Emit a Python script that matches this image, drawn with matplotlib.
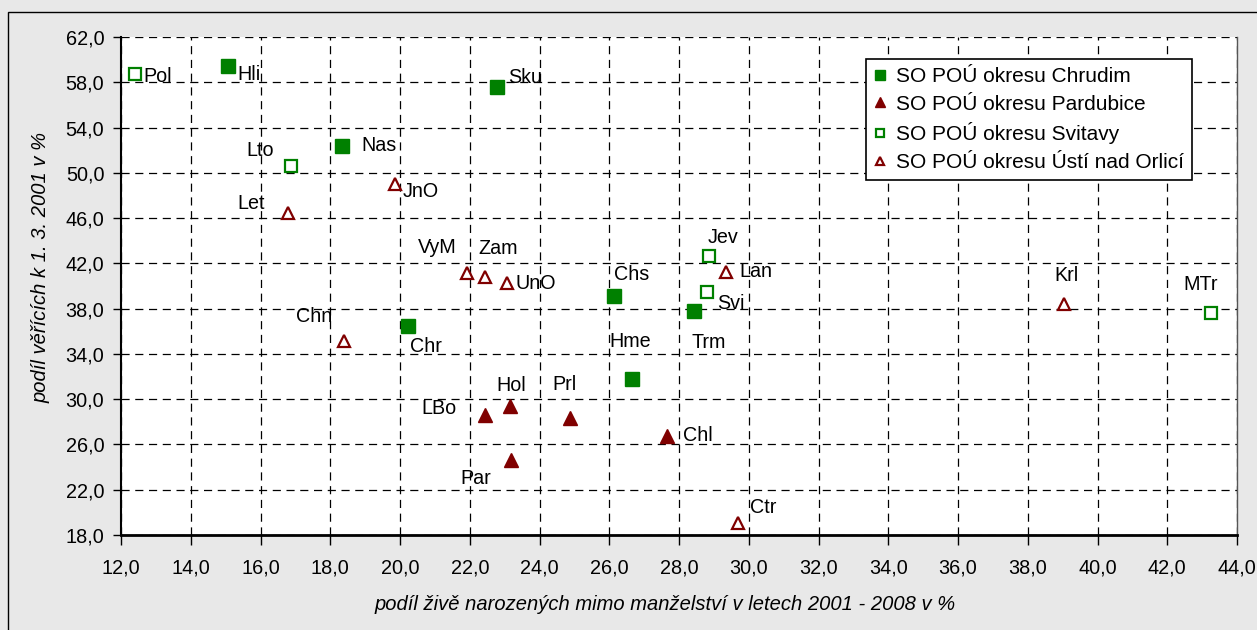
import matplotlib
matplotlib.use("Agg")
import matplotlib.pyplot as plt
from matplotlib.patches import Rectangle

plt.rcParams['font.family'] = ['Liberation Sans', 'DejaVu Sans']

# ---- data ----
chr_names = ["Hli", "Sku", "Nas", "Chr", "Chs", "Trm", "Hme"]
chr_x = [15.07, 22.78, 18.33, 20.23, 26.13, 28.44, 26.65]
chr_y = [59.44, 57.58, 52.40, 36.47, 39.12, 37.79, 31.81]

par_names = ["LBo", "Hol", "Prl", "Chl", "Par"]
par_x = [22.44, 23.15, 24.88, 27.66, 23.17]
par_y = [28.60, 29.42, 28.31, 26.75, 24.63]

svi_names = ["Pol", "Lto", "Jev", "Svi", "MTr"]
svi_x = [12.40, 16.87, 28.87, 28.80, 43.25]
svi_y = [58.76, 50.63, 42.65, 39.44, 37.59]

ust_names = ["Let", "JnO", "VyM", "Zam", "UnO", "Lan", "Chn", "Ctr", "Krl"]
ust_x = [16.78, 19.85, 21.92, 22.44, 23.07, 29.35, 18.40, 29.70, 39.05]
ust_y = [46.42, 48.98, 41.18, 40.77, 40.24, 41.26, 35.14, 19.03, 38.41]

series_labels = ["SO POÚ okresu Chrudim", "SO POÚ okresu Pardubice",
                 "SO POÚ okresu Svitavy", "SO POÚ okresu Ústí nad Orlicí"]

x_ticks = [12, 14, 16, 18, 20, 22, 24, 26, 28, 30, 32, 34, 36, 38, 40, 42, 44]
y_ticks = [18, 22, 26, 30, 34, 38, 42, 46, 50, 54, 58, 62]

x_label = "podíl živě narozených mimo manželství v letech 2001 - 2008 v %"
y_label = "podíl věřících k 1. 3. 2001 v %"

# label placement: (dx px, dy px, ha)
label_pos = {
    "Pol": (8, -3, "left"), "Hli": (9, -9, "left"), "Sku": (11, 10, "left"),
    "Nas": (20, 0, "left"), "Lto": (-17, 15, "right"), "Let": (-23, 10, "right"),
    "JnO": (8, -7, "left"), "VyM": (-10, 25, "right"), "Zam": (-7, 29, "left"),
    "UnO": (8, 0, "left"), "Chs": (0, 21, "left"), "Jev": (-2, 19, "left"),
    "Lan": (13, 0, "left"), "Svi": (10, -11, "left"), "Trm": (-3, -31, "left"),
    "Hme": (-23, 37, "left"), "Chr": (2, -21, "left"), "Chn": (-12, 25, "right"),
    "Hol": (-13, 20, "left"), "Prl": (-18, 34, "left"), "LBo": (-29, 7, "right"),
    "Par": (-50, -19, "left"), "Chl": (16, 0, "left"), "Ctr": (12, 16, "left"),
    "Krl": (-10, 28, "left"), "MTr": (-27, 29, "left"),
}

GREEN = "#008000"
RED = "#800000"

fig = plt.figure(figsize=(12.57, 6.30), dpi=100)
fig.patch.set_facecolor("#E8E8E8")
fig.patches.append(Rectangle((8 / 1257, -0.2), 1.2, 1.2 - 12 / 630,
                             transform=fig.transFigure, fill=False,
                             edgecolor="black", linewidth=1.0, zorder=0))

ax = fig.add_axes([121 / 1257, 95 / 630, 1116 / 1257, 498 / 630])
ax.set_facecolor("white")

ax.plot(chr_x, chr_y, ls="none", marker="s", ms=10, mfc=GREEN, mec=GREEN,
        label=series_labels[0], zorder=3)
ax.plot(par_x, par_y, ls="none", marker="^", ms=10, mfc=RED, mec=RED,
        label=series_labels[1], zorder=3)
ax.plot(svi_x, svi_y, ls="none", marker="s", ms=8, mfc="white", mec=GREEN,
        mew=1.6, label=series_labels[2], zorder=3)
ax.plot(ust_x, ust_y, ls="none", marker="^", ms=9, mfc="white", mec=RED,
        mew=1.6, label=series_labels[3], zorder=3)

for names, xs, ys in [(chr_names, chr_x, chr_y), (par_names, par_x, par_y),
                      (svi_names, svi_x, svi_y), (ust_names, ust_x, ust_y)]:
    for n, xv, yv in zip(names, xs, ys):
        dx, dy, ha = label_pos[n]
        ax.annotate(n, (xv, yv), xytext=(dx, dy), textcoords="offset pixels",
                    ha=ha, va="center", fontsize=14.2, color="black", zorder=4)

ax.set_xlim(12, 44)
ax.set_ylim(18, 62)
ax.set_xticks(x_ticks)
ax.set_yticks(y_ticks)
ax.set_xticklabels([f"{v:.1f}".replace(".", ",") for v in x_ticks])
ax.set_yticklabels([f"{v:.1f}".replace(".", ",") for v in y_ticks])
ax.tick_params(axis="x", direction="out", length=7, width=1, pad=10, labelsize=14.3)
ax.tick_params(axis="y", direction="out", length=6, width=1, pad=6, labelsize=14.3)

ax.grid(True, color="black", linestyle=(0, (6.5, 4.5)), linewidth=0.9)
ax.set_axisbelow(True)

ax.spines["top"].set_visible(False)
ax.spines["right"].set_color("#555555")
ax.spines["right"].set_linewidth(1.0)
ax.spines["left"].set_linewidth(1.5)
ax.spines["bottom"].set_linewidth(2.0)
ax.spines["left"].set_color("black")
ax.spines["bottom"].set_color("black")

fig.text(665 / 1257, 1 - 605 / 630, x_label, ha="center", va="center",
         style="italic", fontsize=14.5)
fig.text(41 / 1257, 1 - 267 / 630, y_label, ha="center", va="center",
         rotation=90, style="italic", fontsize=14.5)

leg = ax.legend(loc="upper left", bbox_to_anchor=((866 - 121) / 1116, (535 - 59) / 498),
                borderaxespad=0, frameon=True, fancybox=False, fontsize=15,
                markerscale=0.65, handlelength=0.6, handletextpad=0.45,
                labelspacing=0.42, borderpad=0.38, numpoints=1)
leg.get_frame().set_edgecolor("black")
leg.get_frame().set_linewidth(1.2)
leg.get_frame().set_facecolor("white")
leg.get_frame().set_alpha(1)

fig.savefig("out.png", dpi=100, facecolor=fig.get_facecolor())
